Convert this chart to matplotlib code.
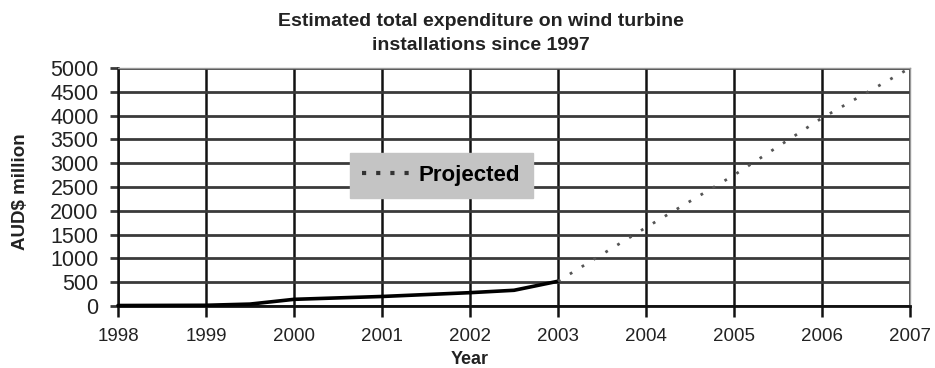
import matplotlib
matplotlib.use("Agg")
import matplotlib.pyplot as plt
from matplotlib.lines import Line2D

plt.rcParams['font.family'] = ['Liberation Sans', 'DejaVu Sans']

# Actual cumulative expenditure (AUD$ million)
actual_years = [1998, 1999, 1999.5, 2000, 2001, 2002, 2002.5, 2003]
actual_values = [10, 15, 40, 140, 200, 280, 330, 520]

# Projected cumulative expenditure (AUD$ million)
proj_years = [2003, 2004, 2005, 2006, 2007]
proj_values = [520, 1650, 2750, 3950, 5000]

x_ticks = [1998, 1999, 2000, 2001, 2002, 2003, 2004, 2005, 2006, 2007]
y_ticks = [0, 500, 1000, 1500, 2000, 2500, 3000, 3500, 4000, 4500, 5000]

TEXT = '#222222'

fig = plt.figure(figsize=(9.35, 3.68), dpi=100)
ax = fig.add_axes([0.1262, 0.1685, 0.8471, 0.6467])

ax.set_xlim(1998, 2007)
ax.set_ylim(0, 5000)
ax.set_xticks(x_ticks)
ax.set_yticks(y_ticks)
ax.set_xticklabels([str(v) for v in x_ticks], fontsize=13.5, color=TEXT)
ax.set_yticklabels([str(v) for v in y_ticks], fontsize=15.5, color=TEXT)

ax.grid(axis='y', color='#3a3a3a', linewidth=2.0)
ax.grid(axis='x', color='#111111', linewidth=1.8)
ax.set_axisbelow(True)
ax.tick_params(axis='x', direction='out', length=8, width=1.8, color='#111111', pad=8)
ax.tick_params(axis='y', direction='out', length=6, width=2.0, color='#3a3a3a', pad=8)

for side in ('top', 'right'):
    ax.spines[side].set_color('#999999')
    ax.spines[side].set_linewidth(1.0)
ax.spines['left'].set_color('#111111')
ax.spines['left'].set_linewidth(1.8)
ax.spines['bottom'].set_color('#111111')
ax.spines['bottom'].set_linewidth(2.0)

ax.plot(actual_years, actual_values, color='black', linewidth=2.6,
        solid_capstyle='round', zorder=3, clip_on=False)
ax.plot(proj_years, proj_values, color='#555555', linewidth=2.0,
        linestyle=(0, (1, 4)), zorder=3, clip_on=False)

# Legend shows only the projected series, in a grey box
handle = Line2D([], [], color='#333333', linewidth=3, linestyle=(0, (1, 2.4)))
ax.legend([handle], ['Projected'], loc='upper left',
          bbox_to_anchor=(0.293, 0.643), borderaxespad=0,
          frameon=True, fancybox=False,
          facecolor='#c4c4c4', edgecolor='#c4c4c4', framealpha=1,
          prop={'weight': 'bold', 'size': 16}, handlelength=2.1,
          handletextpad=0.45, borderpad=0.55)

fig.text(0.514, 0.965,
         'Estimated total expenditure on wind turbine\ninstallations since 1997',
         ha='center', va='top', multialignment='center',
         fontsize=14, fontweight='bold', color=TEXT, linespacing=1.55)

ax.set_xlabel('Year', fontsize=13, fontweight='bold', color=TEXT)
ax.xaxis.set_label_coords(0.444, -0.19)
ax.set_ylabel('AUD$ million', fontsize=13.5, fontweight='bold', color=TEXT)
ax.yaxis.set_label_coords(-0.112, 0.48)

fig.savefig('out.png', dpi=100)
